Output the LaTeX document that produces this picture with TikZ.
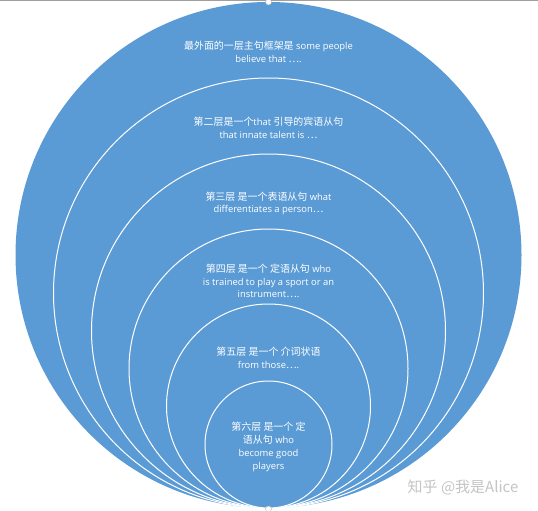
\documentclass[tikz,border=0pt]{standalone}
\usepackage{fontspec}
\setmainfont{Open Sans}
\newfontfamily\cjk[Scale=1.06]{Noto Sans CJK SC}
\newfontfamily\wmfont{Noto Sans CJK SC}
\definecolor{ringblue}{HTML}{5B9BD5}
\definecolor{wmgray}{HTML}{C4C4C4}
\begin{document}
\begin{tikzpicture}[x=1pt,y=-1pt,
  ring/.style={circle, draw=white, line width=1pt, fill=ringblue, inner sep=0pt},
  outerring/.style={circle, fill=ringblue, inner sep=0pt},
  lbl/.style={text=white, align=center, font=\fontsize{9.4}{12.8}\selectfont, inner sep=0pt},
  handle/.style={circle, fill=white, draw=gray!60, line width=0.4pt, minimum size=6pt, inner sep=0pt},
]
\useasboundingbox (0,0) rectangle (538,511);
\draw[gray!75, line width=1pt] (0,0.5) -- (538,0.5);
\node[outerring, minimum size=506pt] (c1) at (268.5,255) {};
\node[ring, minimum size=430pt] (c2) at (268.5,293) {};
\node[ring, minimum size=354pt] (c3) at (268.5,331) {};
\node[ring, minimum size=279pt] (c4) at (268.5,368.5) {};
\node[ring, minimum size=204pt] (c5) at (268.5,406) {};
\node[ring, minimum size=127pt] (c6) at (268.5,444.5) {};
\node[handle] (h1) at (268.5,2) {};
\node[handle] (h2) at (268.5,509) {};

\node[lbl] (t1) at (268.5,51.5) {{\cjk 最外面的一层主句框架是} some people\\believe that {\cjk ⋯}.};
\node[lbl] (t2) at (268.5,127.5) {{\cjk 第二层是一个}that {\cjk 引导的宾语从句}\\that innate talent is {\cjk ⋯}};
\node[lbl] (t3) at (268.5,203.5) {{\cjk 第三层 是一个表语从句} what\\differentiates a person{\cjk ⋯}};
\node[lbl] (t4) at (268.5,281) {{\cjk 第四层 是一个 定语从句} who\\is trained to play a sport or an\\instrument{\cjk ⋯}.};
\node[lbl] (t5) at (268.5,358) {{\cjk 第五层 是一个 介词状语}\\from those{\cjk ⋯}.};
\node[lbl] (t6) at (268.5,447) {{\cjk 第六层 是一个 定}\\{\cjk 语从句} who\\become good\\players};

\node[text=wmgray, inner sep=0pt, font=\wmfont\fontsize{15}{18}\selectfont] (wm) at (463,487) {知乎 @我是Alice};
\end{tikzpicture}
\end{document}
